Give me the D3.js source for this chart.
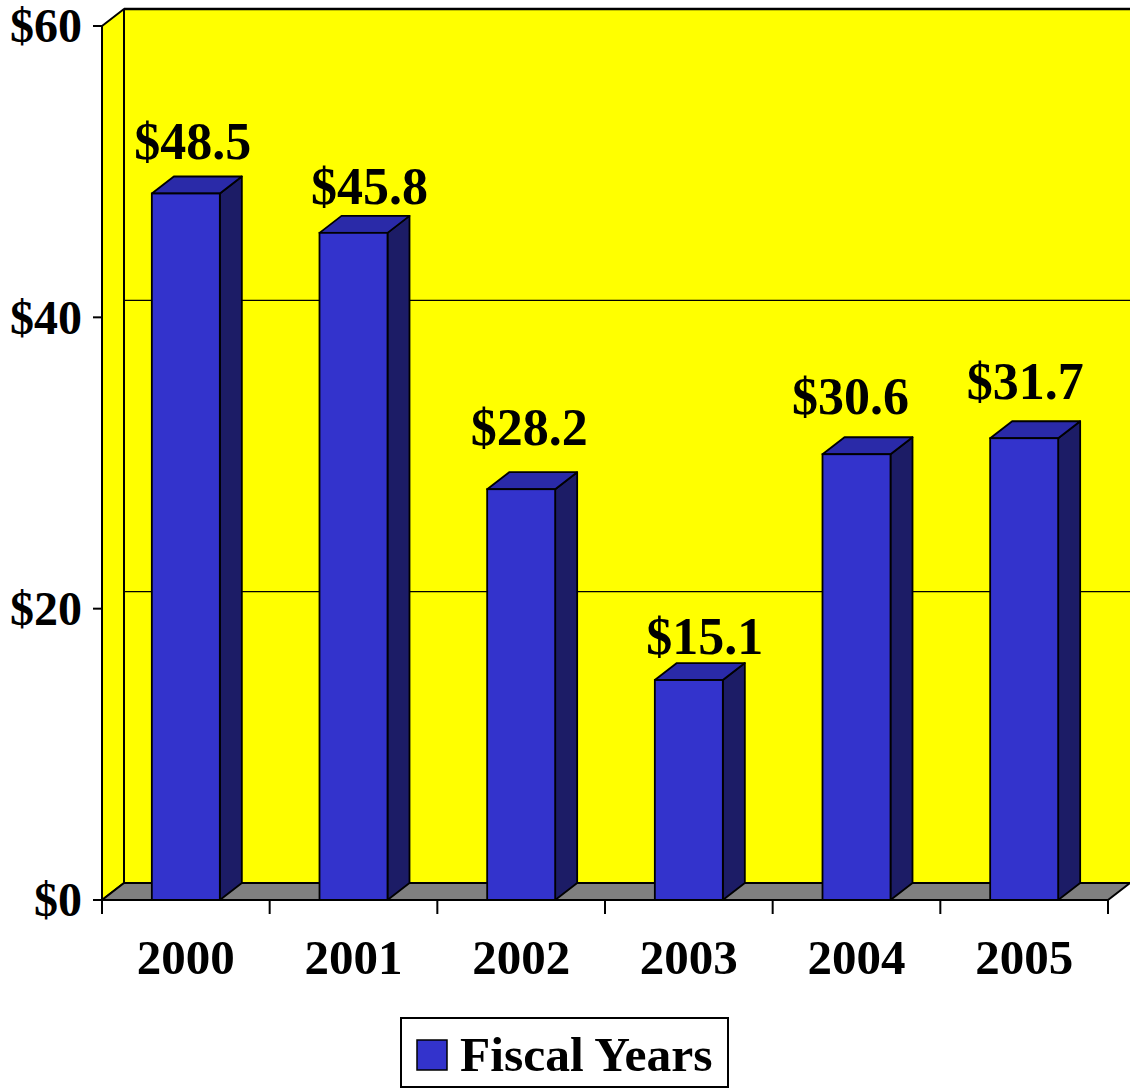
<!DOCTYPE html>
<html>
<head>
<meta charset="utf-8">
<script src="https://cdn.jsdelivr.net/npm/d3@7"></script>
<style>
  html, body { margin: 0; padding: 0; background: #fff; }
  svg { display: block; }
  text { font-family: "Liberation Serif", "Times New Roman", serif; font-weight: bold; fill: #000; }
</style>
</head>
<body>
<svg id="chart" width="1130" height="1089"></svg>
<script>
// Fiscal-year totals (millions of dollars)
const years = ["2000", "2001", "2002", "2003", "2004", "2005"];
const values = [48.5, 45.8, 28.2, 15.1, 30.6, 31.7];
const valueLabels = ["$48.5", "$45.8", "$28.2", "$15.1", "$30.6", "$31.7"];
const yTicks = [0, 20, 40, 60];
const seriesName = "Fiscal Years";

// hand placement of the value labels: horizontal nudge and gap above each bar top
const labelNudgeX = [-4, 5, -3, 5, -17, -10];
const labelGapY = [18, 12, 27, 9, 23, 22];

const svg = d3.select("#chart");

// front plane of the plot and 3-D depth offset
const plotLeft = 102, plotRight = 1108, plotTop = 26, plotBottom = 900;
const dx = 22, dy = -17;

const x = d3.scaleBand().domain(years).range([plotLeft, plotRight]).paddingInner(0).paddingOuter(0);
const y = d3.scaleLinear().domain([0, 60]).range([plotBottom, plotTop]);
const barW = 68;

const colors = {
  wall: "#ffff00",
  floor: "#808080",
  front: "#3333cc",
  side: "#1c1c66",
  top: "#2a2aa8"
};

const poly = pts => "M" + pts.map(p => p.join(",")).join("L") + "Z";

// back wall
svg.append("path")
  .attr("d", poly([[plotLeft + dx, y(60) + dy], [1130, y(60) + dy], [1130, y(0) + dy], [plotLeft + dx, y(0) + dy]]))
  .attr("fill", colors.wall);

// gridlines on the back wall
svg.selectAll("line.grid")
  .data(yTicks.filter(t => t > 0 && t < 60))
  .join("line")
  .attr("class", "grid")
  .attr("x1", plotLeft + dx).attr("x2", 1130)
  .attr("y1", d => y(d) + dy).attr("y2", d => y(d) + dy)
  .attr("stroke", "#000").attr("stroke-width", 1.2);

// top edge of the back wall
svg.append("line")
  .attr("x1", plotLeft + dx).attr("x2", 1130)
  .attr("y1", y(60) + dy).attr("y2", y(60) + dy)
  .attr("stroke", "#000").attr("stroke-width", 2.5);

// left side wall
svg.append("path")
  .attr("d", poly([[plotLeft, y(0)], [plotLeft, y(60)], [plotLeft + dx, y(60) + dy], [plotLeft + dx, y(0) + dy]]))
  .attr("fill", colors.wall).attr("stroke", "#000").attr("stroke-width", 2).attr("stroke-linejoin", "round");

// floor
svg.append("path")
  .attr("d", poly([[plotLeft, y(0)], [plotLeft + dx, y(0) + dy], [plotRight + dx, y(0) + dy], [plotRight, y(0)]]))
  .attr("fill", colors.floor).attr("stroke", "#000").attr("stroke-width", 2).attr("stroke-linejoin", "round");

// bars
const bars = svg.selectAll("g.bar")
  .data(years.map((yr, i) => ({ yr, v: values[i], label: valueLabels[i], i })))
  .join("g").attr("class", "bar");

bars.each(function(d) {
  const g = d3.select(this);
  const x0 = x(d.yr) + (x.bandwidth() - barW) / 2;
  const x1 = x0 + barW;
  const yt = y(d.v), yb = y(0);
  // right side face
  g.append("path")
    .attr("d", poly([[x1, yb], [x1, yt], [x1 + dx, yt + dy], [x1 + dx, yb + dy]]))
    .attr("fill", colors.side).attr("stroke", "#000").attr("stroke-width", 1.8).attr("stroke-linejoin", "round");
  // top face
  g.append("path")
    .attr("d", poly([[x0, yt], [x0 + dx, yt + dy], [x1 + dx, yt + dy], [x1, yt]]))
    .attr("fill", colors.top).attr("stroke", "#000").attr("stroke-width", 1.8).attr("stroke-linejoin", "round");
  // front face
  g.append("rect")
    .attr("x", x0).attr("y", yt).attr("width", barW).attr("height", yb - yt)
    .attr("fill", colors.front).attr("stroke", "#000").attr("stroke-width", 1.8);
  // value label
  g.append("text")
    .attr("x", (x0 + x1) / 2 + dx / 2 + labelNudgeX[d.i])
    .attr("y", yt + dy - labelGapY[d.i])
    .attr("text-anchor", "middle")
    .attr("font-size", 52)
    .text(d.label);
});

// value axis
svg.append("line")
  .attr("x1", plotLeft).attr("x2", plotLeft).attr("y1", y(60)).attr("y2", y(0))
  .attr("stroke", "#000").attr("stroke-width", 2);
svg.selectAll("line.ytick").data(yTicks).join("line")
  .attr("class", "ytick")
  .attr("x1", plotLeft - 9).attr("x2", plotLeft)
  .attr("y1", d => y(d)).attr("y2", d => y(d))
  .attr("stroke", "#000").attr("stroke-width", 2);
svg.selectAll("text.ylab").data(yTicks).join("text")
  .attr("class", "ylab")
  .attr("x", plotLeft - 20).attr("y", d => y(d))
  .attr("dy", "0.34em")
  .attr("text-anchor", "end")
  .attr("font-size", 48)
  .text(d => "$" + d);

// category axis
svg.append("line")
  .attr("x1", plotLeft).attr("x2", plotRight).attr("y1", y(0)).attr("y2", y(0))
  .attr("stroke", "#000").attr("stroke-width", 2);
const boundaries = years.map(yr => x(yr)).concat([plotRight]);
svg.selectAll("line.xtick").data(boundaries).join("line")
  .attr("class", "xtick")
  .attr("x1", d => d).attr("x2", d => d)
  .attr("y1", y(0)).attr("y2", y(0) + 14)
  .attr("stroke", "#000").attr("stroke-width", 2);
svg.selectAll("text.xlab").data(years).join("text")
  .attr("class", "xlab")
  .attr("x", d => x(d) + x.bandwidth() / 2)
  .attr("y", 974)
  .attr("text-anchor", "middle")
  .attr("font-size", 49)
  .text(d => d);

// legend
const lg = svg.append("g");
lg.append("rect")
  .attr("x", 401).attr("y", 1018).attr("width", 327).attr("height", 69)
  .attr("fill", "#fff").attr("stroke", "#000").attr("stroke-width", 2);
lg.append("rect")
  .attr("x", 417).attr("y", 1040).attr("width", 30).attr("height", 30)
  .attr("fill", colors.front).attr("stroke", "#000").attr("stroke-width", 1.5);
lg.append("text")
  .attr("x", 460).attr("y", 1071)
  .attr("font-size", 49.5)
  .text(seriesName);
</script>
</body>
</html>
